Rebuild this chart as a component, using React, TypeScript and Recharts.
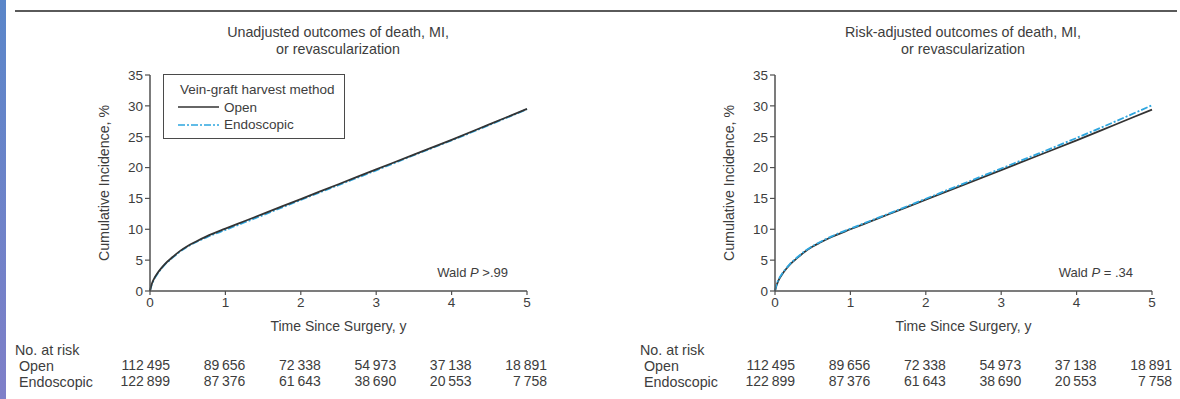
import { LineChart, Line, XAxis, YAxis, Legend } from "recharts"

// time since surgery, years
const years = [0, 0.02, 0.05, 0.1, 0.15, 0.2, 0.3, 0.4, 0.5, 0.6, 0.75, 1, 1.25, 1.5, 2, 2.5, 3, 3.5, 4, 4.5, 5]

// cumulative incidence, %
const unadjOpen = [0, 1.0, 1.9, 2.9, 3.7, 4.4, 5.5, 6.5, 7.3, 7.95, 8.85, 10.1, 11.3, 12.5, 14.9, 17.3, 19.7, 22.1, 24.5, 27.0, 29.5]
const unadjEndo = [0, 0.9, 1.8, 2.8, 3.6, 4.3, 5.4, 6.4, 7.2, 7.85, 8.7, 9.9, 11.1, 12.3, 14.75, 17.15, 19.55, 22.0, 24.4, 26.9, 29.45]
const adjOpen = [0, 0.9, 1.8, 2.8, 3.6, 4.3, 5.4, 6.4, 7.2, 7.85, 8.75, 10.0, 11.2, 12.4, 14.8, 17.2, 19.6, 22.0, 24.4, 26.9, 29.4]
const adjEndo = [0, 1.0, 1.9, 2.9, 3.7, 4.4, 5.5, 6.5, 7.3, 7.95, 8.85, 10.1, 11.3, 12.5, 14.95, 17.4, 19.85, 22.3, 24.8, 27.4, 30.1]

const xTicks = [0, 1, 2, 3, 4, 5]
const yTicks = [0, 5, 10, 15, 20, 25, 30, 35]

// no. at risk, one value per x tick
const riskOpen = [112495, 89656, 72338, 54973, 37138, 18891]
const riskEndo = [122899, 87376, 61643, 38690, 20553, 7758]

const seriesNames = ["Open", "Endoscopic"]

const INK = "#3d3d3d"
const AXIS = "#505050"
const FONT = '"Liberation Sans", Arial, Helvetica, sans-serif'
const OPEN_COLOR = "#333333"
const ENDO_COLOR = "#2ea6df"
const ENDO_DASH = "7 2 2 2"

function fmt(n: number) {
  const s = String(n)
  return s.length > 3 ? s.slice(0, -3) + "\u2009" + s.slice(-3) : s
}

function riskTick(values: number[]) {
  return (props: any) => {
    const i = xTicks.indexOf(props.payload.value)
    return (
      <text x={props.x + 20} y={props.y + 12} textAnchor="end" fill={INK} fontSize={14} fontFamily={FONT}>
        {fmt(values[i])}
      </text>
    )
  }
}

function LegendBox({ payload }: any) {
  const items = seriesNames.map((n) => (payload || []).find((p: any) => p.value === n)).filter(Boolean)
  return (
    <div
      style={{
        border: "1.5px solid #4a4a4a",
        width: 182,
        height: 65,
        boxSizing: "border-box",
        padding: "6px 0 0 16px",
        fontSize: 13.5,
        lineHeight: "17.5px",
        color: INK,
        fontFamily: FONT,
        background: "#fff",
        textAlign: "left",
      }}
    >
      <div>Vein-graft harvest method</div>
      {items.map((p: any) => (
        <div key={p.value} style={{ display: "flex", alignItems: "center" }}>
          <svg width={46} height={6} style={{ marginLeft: -2 }}>
            <line
              x1={0}
              x2={41}
              y1={3}
              y2={3}
              stroke={p.color}
              strokeWidth={1.5}
              strokeDasharray={p.value === "Endoscopic" ? ENDO_DASH : undefined}
            />
          </svg>
          {p.value}
        </div>
      ))}
    </div>
  )
}

interface PanelProps {
  left: number
  title: string[]
  openVals: number[]
  endoVals: number[]
  wald: string
  legend?: boolean
  endoOnTop?: boolean
}

function Panel({ left, title, openVals, endoVals, wald, legend, endoOnTop }: PanelProps) {
  const data = years.map((t, i) => ({ t, open: openVals[i], endo: endoVals[i] }))
  const openLine = (
    <Line key="open" xAxisId="a0" type="monotone" dataKey="open" name="Open" stroke={OPEN_COLOR} strokeWidth={1.8} dot={false} isAnimationActive={false} />
  )
  const endoLine = (
    <Line key="endo" xAxisId="a0" type="monotone" dataKey="endo" name="Endoscopic" stroke={ENDO_COLOR} strokeWidth={1.8} strokeDasharray={ENDO_DASH} dot={false} isAnimationActive={false} />
  )
  const tickStyle = { fill: INK, fontSize: 13.5, fontFamily: FONT }
  const text = { position: "absolute" as const, color: INK, fontFamily: FONT, fontSize: 14.3, lineHeight: "16px", whiteSpace: "nowrap" as const }
  const riskAxis = {
    dataKey: "t",
    type: "number" as const,
    domain: [0, 5],
    allowDataOverflow: true,
    ticks: xTicks,
    interval: 0,
    height: 16,
    axisLine: false,
    tickLine: false,
    tickSize: 0,
    tickMargin: 0,
  }

  return (
    <div style={{ position: "absolute", left, top: 0, width: 552, height: 399 }}>
      <LineChart width={552} height={399} data={data} margin={{ top: 75, right: 25, bottom: 9, left: 90 }}>
        <XAxis
          xAxisId="a0"
          dataKey="t"
          type="number"
          domain={[0, 5]}
          ticks={xTicks}
          interval={0}
          height={67}
          axisLine={{ stroke: AXIS, strokeWidth: 1.5 }}
          tickLine={{ stroke: AXIS, strokeWidth: 1.2 }}
          tickSize={4}
          tick={tickStyle}
          label={{ value: "Time Since Surgery, y", position: "insideBottom", offset: 27, fill: INK, fontSize: 14, fontFamily: FONT }}
        />
        <XAxis xAxisId="a1" {...riskAxis} tick={riskTick(riskOpen)} />
        <XAxis xAxisId="a2" {...riskAxis} tick={riskTick(riskEndo)} />
        <YAxis
          type="number"
          domain={[0, 35]}
          ticks={yTicks}
          interval={0}
          width={60}
          axisLine={{ stroke: AXIS, strokeWidth: 1.5 }}
          tickLine={{ stroke: AXIS, strokeWidth: 1.2 }}
          tickSize={5}
          tickMargin={2}
          tick={tickStyle}
          label={{ value: "Cumulative Incidence, %", angle: -90, position: "insideLeft", offset: 14, fill: INK, fontSize: 14.2, fontFamily: FONT, style: { textAnchor: "middle" } }}
        />
        {endoOnTop ? [openLine, endoLine] : [endoLine, openLine]}
        {legend && (
          <Legend
            layout="vertical"
            align="center"
            verticalAlign="middle"
            wrapperStyle={{ left: 163, top: 74, width: 182, height: 65 }}
            content={LegendBox}
          />
        )}
      </LineChart>

      <div style={{ ...text, left: 88, width: 500, top: 24, lineHeight: "17px", textAlign: "center" }}>
        {title[0]}
        <br />
        {title[1]}
      </div>
      <div style={{ ...text, left: 0, width: 508, top: 265, fontSize: 13, textAlign: "right" }}>
        Wald <i>P</i> {wald}
      </div>
      <div style={{ ...text, left: 15, top: 342 }}>No. at risk</div>
      <div style={{ ...text, left: 19, top: 358 }}>Open</div>
      <div style={{ ...text, left: 19, top: 374 }}>Endoscopic</div>
    </div>
  )
}

export default function App() {
  return (
    <div style={{ position: "absolute", left: 0, top: 0, width: 1180, height: 399, background: "#fff", overflow: "hidden" }}>
      <div style={{ position: "absolute", left: 0, top: 0, width: 6, height: 399, background: "linear-gradient(#5a86c9, #7f7fc8)" }} />
      <div style={{ position: "absolute", left: 15, top: 10, width: 1162, height: 2, background: "#5a5a5a" }} />
      <Panel
        left={0}
        title={["Unadjusted outcomes of death, MI,", "or revascularization"]}
        openVals={unadjOpen}
        endoVals={unadjEndo}
        wald=">.99"
        legend
      />
      <Panel
        left={625}
        title={["Risk-adjusted outcomes of death, MI,", "or revascularization"]}
        openVals={adjOpen}
        endoVals={adjEndo}
        wald="= .34"
        endoOnTop
      />
    </div>
  )
}
